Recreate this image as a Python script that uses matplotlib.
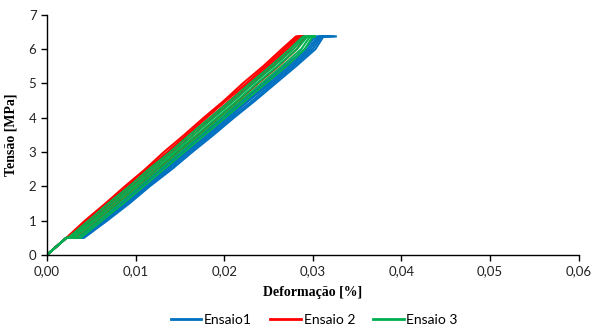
import matplotlib
matplotlib.use("Agg")
import matplotlib.pyplot as plt
from matplotlib.ticker import FuncFormatter, MultipleLocator

# Stress levels shared by every loading cycle [MPa]
tensao = [0.0, 0.5, 0.5, 1.0, 1.5, 2.0, 2.5, 3.0, 3.5, 4.0, 4.5, 5.0, 5.5, 6.0, 6.37, 6.37]

# Strain [%] of each loading cycle at the stress levels above
ensaio1 = [
    [0, .0022, .0034, .0059, .0082, .0106, .0129, .0153, .0175, .0199, .0221, .0245, .0268, .0291, .0303, .0314],
    [0, .0022, .0036, .0062, .0085, .0109, .0133, .0156, .0179, .0202, .0226, .0249, .0272, .0294, .0306, .0318],
    [0, .0022, .0038, .0064, .0088, .0111, .0135, .0158, .0182, .0205, .0228, .0252, .0275, .0297, .0308, .0321],
    [0, .0022, .0040, .0066, .0090, .0114, .0138, .0161, .0185, .0208, .0232, .0255, .0278, .0300, .0310, .0324],
    [0, .0022, .0042, .0068, .0093, .0116, .0141, .0164, .0188, .0211, .0235, .0258, .0281, .0303, .0312, .0326],
]
ensaio2 = [
    [0, .0022, .0022, .0043, .0066, .0088, .0111, .0132, .0155, .0177, .0200, .0221, .0244, .0265, .0281, .0289],
    [0, .0022, .0024, .0046, .0068, .0091, .0113, .0136, .0158, .0180, .0202, .0225, .0247, .0268, .0283, .0289],
    [0, .0022, .0026, .0049, .0071, .0094, .0116, .0139, .0161, .0184, .0206, .0228, .0250, .0271, .0285, .0289],
    [0, .0022, .0029, .0052, .0075, .0097, .0120, .0142, .0165, .0187, .0210, .0232, .0254, .0275, .0287, .0290],
    [0, .0022, .0033, .0057, .0079, .0103, .0125, .0148, .0171, .0193, .0216, .0238, .0261, .0282, .0292, .0296],
]
ensaio3 = [
    [0, .0022, .0024, .0047, .0069, .0093, .0115, .0139, .0161, .0184, .0207, .0229, .0252, .0274, .0289, .0302],
    [0, .0022, .0027, .0051, .0073, .0097, .0119, .0143, .0165, .0188, .0211, .0233, .0256, .0278, .0291, .0302],
    [0, .0022, .0030, .0054, .0077, .0100, .0123, .0146, .0169, .0192, .0215, .0237, .0260, .0282, .0294, .0302],
    [0, .0022, .0034, .0058, .0081, .0104, .0127, .0150, .0173, .0196, .0219, .0242, .0265, .0287, .0297, .0302],
    [0, .0022, .0038, .0062, .0086, .0109, .0132, .0155, .0178, .0201, .0224, .0247, .0270, .0291, .0300, .0302],
]

series = [("Ensaio1", ensaio1, "#0070C0"),
          ("Ensaio 2", ensaio2, "#FF0000"),
          ("Ensaio 3", ensaio3, "#00B050")]

fig = plt.figure(figsize=(5.93, 3.29), dpi=100)
ax = fig.add_axes([0.079, 0.225, 0.897, 0.730])

for nome, ciclos, cor in series:
    for i, deform in enumerate(ciclos):
        ax.plot(deform, tensao, color=cor, lw=1.5,
                label=nome if i == 0 else None, solid_joinstyle="round")

ax.set_xlim(0, 0.06)
ax.set_ylim(0, 7)
ax.xaxis.set_major_locator(MultipleLocator(0.01))
ax.yaxis.set_major_locator(MultipleLocator(1))
ax.xaxis.set_major_formatter(FuncFormatter(lambda v, p: f"{v:.2f}".replace(".", ",")))
ax.yaxis.set_major_formatter(FuncFormatter(lambda v, p: f"{v:.0f}"))

for s in ("top", "right"):
    ax.spines[s].set_visible(False)
for s in ("left", "bottom"):
    ax.spines[s].set_color("#000000")
    ax.spines[s].set_linewidth(1.0)

ax.tick_params(direction="out", length=4, width=1.0, labelsize=9.5,
               colors="#000000", labelcolor="#222222")
for lbl in ax.get_xticklabels() + ax.get_yticklabels():
    lbl.set_family("Lato")

ax.set_xlabel("Deformação [%]", family="Liberation Serif", fontweight="bold",
              fontsize=10, labelpad=6)
ax.set_ylabel("Tensão [MPa]", family="Liberation Serif", fontweight="bold",
              fontsize=10, labelpad=8)

leg = fig.legend(loc="center", bbox_to_anchor=(0.53, 0.027), ncol=3, frameon=False,
                 prop={"family": "Lato", "size": 10}, handlelength=2.2,
                 handletextpad=0.2, columnspacing=1.3)
for h in leg.get_lines():
    h.set_linewidth(2.0)

fig.savefig("out.png", dpi=100)
